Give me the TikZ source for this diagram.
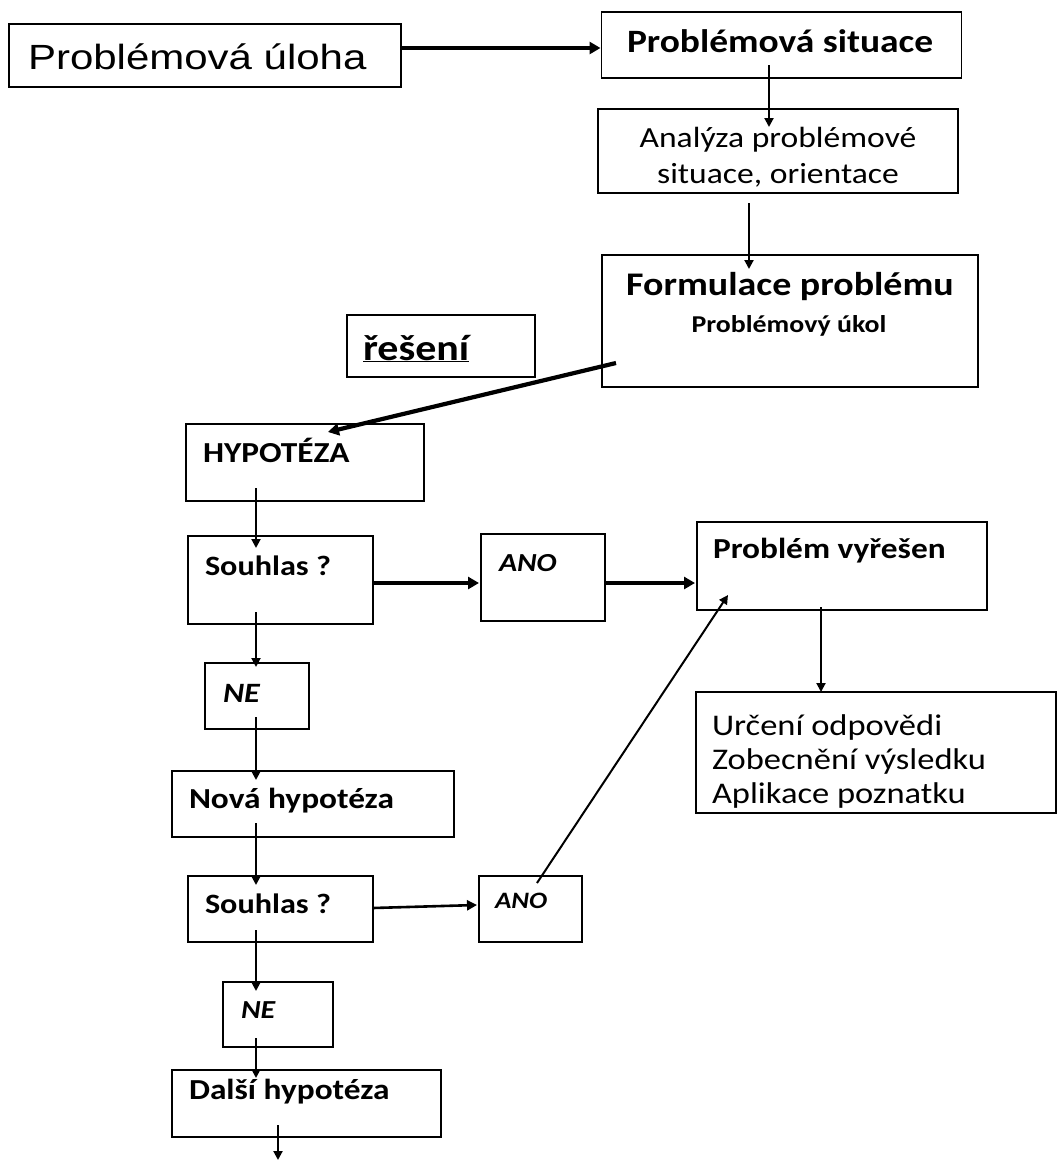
\documentclass[tikz,border=0pt]{standalone}
\usepackage{fontspec}
\usetikzlibrary{arrows.meta,calc}
\newfontfamily\carl[FakeStretch=1.15]{Carlito}
\newfontfamily\arialf[FakeStretch=1.2]{Liberation Sans}
\newcommand\fsz[1]{\fontsize{#1}{#1}\selectfont}
\begin{document}
\begin{tikzpicture}[x=1pt,y=-1pt,
  box/.style={draw, line width=1.6pt, inner sep=0pt, outer sep=0pt, rectangle},
  lbl/.style={anchor=base west, inner sep=0pt, outer sep=0pt},
  clbl/.style={anchor=base, inner sep=0pt, outer sep=0pt},
  bt/.style={font=\carl\bfseries\fsz{#1}},
  bi/.style={font=\carl\bfseries\itshape\fsz{#1}},
  rg/.style={font=\carl\fsz{#1}},
  arr/.style={line width=2pt, -{Triangle[length=9pt,width=9pt]}},
  tarr/.style={line width=4.2pt, -{Triangle[length=11pt,width=12pt]}},
  marr/.style={line width=2.6pt, -{Triangle[length=10pt,width=10pt]}}
]
\useasboundingbox (0,0) rectangle (1059,1162);

% boxes
\node[box, minimum width=392pt, minimum height=63pt] (pu) at (205,55.5) {};
\node[box, minimum width=360pt, minimum height=66pt] (ps) at (781.5,45) {};
\node[box, minimum width=360pt, minimum height=84pt] (an) at (778,151) {};
\node[box, minimum width=376pt, minimum height=132pt] (fp) at (790,321) {};
\node[box, minimum width=188pt, minimum height=62pt] (re) at (441,346) {};
\node[box, minimum width=238pt, minimum height=77pt] (hy) at (305,462.5) {};
\node[box, minimum width=185pt, minimum height=88pt] (s1) at (280.5,580) {};
\node[box, minimum width=124pt, minimum height=87pt] (a1) at (543,577.5) {};
\node[box, minimum width=290pt, minimum height=88pt] (pv) at (842,566) {};
\node[box, minimum width=360pt, minimum height=121pt] (ur) at (876,752.5) {};
\node[box, minimum width=104pt, minimum height=66pt] (n1) at (257,696) {};
\node[box, minimum width=282pt, minimum height=66pt] (nh) at (313,804) {};
\node[box, minimum width=185pt, minimum height=66pt] (s2) at (280.5,909) {};
\node[box, minimum width=103pt, minimum height=66pt] (a2) at (530.5,909) {};
\node[box, minimum width=110pt, minimum height=65pt] (n2) at (278,1014.5) {};
\node[box, minimum width=269pt, minimum height=67pt] (dh) at (306.5,1103.5) {};

% texts
\node[lbl, font=\arialf\fsz{35}] (tpu) at (28,69) {Problémová úloha};
\node[lbl, bt=32.6] (tps) at (627,52) {Problémová situace};
\node[clbl, rg=29.2] (tan1) at (778,147) {Analýza problémové};
\node[clbl, rg=29.2] (tan2) at (778,183) {situace, orientace};
\node[clbl, bt=33] (tfp1) at (790,295) {Formulace problému};
\node[clbl, bt=24.2] (tfp2) at (789,332) {Problémový úkol};
\node[lbl, bt=36.5] (tre) at (363,360) {\underline{řešení}};
\node[lbl, bt=29] (thy) at (203,462) {HYPOTÉZA};
\node[lbl, bt=28] (ts1) at (205,575) {Souhlas ?};
\node[lbl, bi=26] (ta1) at (499,571) {ANO};
\node[lbl, bt=29] (tpv) at (713,558) {Problém vyřešen};
\node[lbl, rg=30] (tur1) at (712,735) {Určení odpovědi};
\node[lbl, rg=30] (tur2) at (712,769) {Zobecnění výsledku};
\node[lbl, rg=30] (tur3) at (712,803) {Aplikace poznatku};
\node[lbl, bi=28] (tn1) at (223,702) {NE};
\node[lbl, bt=29] (tnh) at (189,808) {Nová hypotéza};
\node[lbl, bt=28] (ts2) at (205,913) {Souhlas ?};
\node[lbl, bi=23.5] (ta2) at (495,908) {ANO};
\node[lbl, bi=26] (tn2) at (241,1018) {NE};
\node[lbl, bt=29] (tdh) at (189,1099) {Další hypotéza};

\coordinate (endd) at (278,1160);

% connectors
\draw[tarr] ($(pu.east)+(0,-7.5)$) -- ($(ps.west)+(-1,3)$);
\draw[arr] ($(ps.south)+(-12.5,-13)$) -- ($(an.north)+(-9,18)$);
\draw[arr] ($(an.south)+(-29,10)$) -- ($(fp.north)+(-41,14)$);
\draw[tarr] ($(fp.west)+(14,42)$) -- ($(hy.north)+(23,8)$);
\draw[arr] ($(hy.south)+(-49,-13)$) -- ($(s1.north)+(-24.5,12)$);
\draw[tarr] ($(s1.east)+(0,3)$) -- ($(a1.west)+(-2,5.5)$);
\draw[tarr] ($(a1.east)+(0,5.5)$) -- ($(pv.west)+(-2,17)$);
\draw[arr] ($(pv.south)+(-21,-3)$) -- ($(ur.north)+(-55,0)$);
\draw[arr] ($(a2.north)+(6.5,7)$) -- ($(pv.south west)+(31,-15)$);
\draw[arr] ($(s1.south)+(-24.5,-12)$) -- ($(n1.north)+(-1,4)$);
\draw[arr] ($(n1.south)+(-1,-12)$) -- ($(nh.north)+(-57,9)$);
\draw[arr] ($(nh.south)+(-57,-14)$) -- ($(s2.north)+(-24.5,9)$);
\draw[marr] ($(s2.east)+(0,-1)$) -- ($(a2.west)+(-2,-4)$);
\draw[arr] ($(s2.south)+(-24.5,-12)$) -- ($(n2.north)+(-22,9)$);
\draw[arr] ($(n2.south)+(-22,-9)$) -- ($(dh.north)+(-50.5,8)$);
\draw[arr] ($(dh.south)+(-28.5,-12)$) -- (endd);
\end{tikzpicture}
\end{document}
